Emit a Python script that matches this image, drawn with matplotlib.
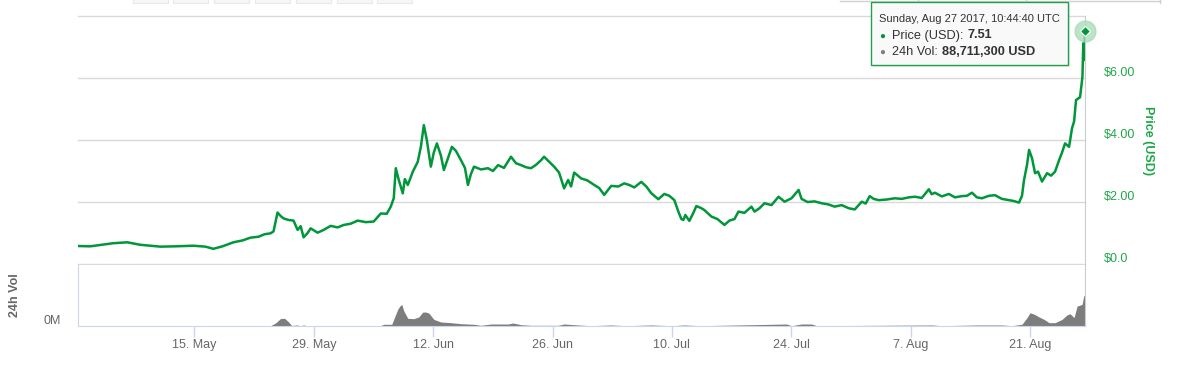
import pandas as pd
import matplotlib
matplotlib.use("Agg")
import matplotlib.pyplot as plt
from matplotlib.patches import Rectangle
from matplotlib.lines import Line2D
from matplotlib.text import Annotation
from matplotlib.transforms import ScaledTranslation

plt.rcParams['font.family'] = ['Liberation Sans', 'DejaVu Sans']

# price (days after 1 May 2017, USD)
price_day = [0.37, 1.78, 4.48, 6.13, 7.65, 10.0, 11.77, 13.88, 15.29, 16.23,
             17.29, 18.58, 19.64, 20.58, 21.52, 22.23, 22.93, 23.28, 23.75, 24.11,
             24.46, 25.05, 25.63, 26.10, 26.46, 26.81, 27.28, 27.63, 28.45, 29.16,
             29.98, 30.80, 31.51, 32.33, 33.15, 34.09, 35.03, 35.86, 36.56, 37.03,
             37.38, 37.62, 37.97, 38.44, 38.68, 39.03, 39.62, 40.20, 40.56, 40.91,
             41.26, 41.73, 42.08, 42.44, 42.91, 43.26, 43.73, 44.20, 44.67, 45.26,
             45.73, 46.08, 46.43, 46.79, 47.61, 48.43, 49.02, 49.61, 50.31, 51.13,
             51.72, 52.31, 52.90, 53.48, 54.07, 54.66, 55.01, 55.60, 56.19, 56.77,
             57.36, 57.83, 58.18, 58.54, 59.36, 60.06, 60.89, 61.48, 62.06, 62.89,
             63.71, 64.41, 65.00, 65.59, 66.41, 67.00, 67.59, 68.41, 69.11, 69.70,
             70.29, 70.76, 71.11, 71.35, 71.58, 72.05, 72.52, 72.87, 73.46, 73.81,
             74.64, 75.34, 76.16, 76.75, 77.34, 77.81, 78.51, 79.33, 79.69, 80.28,
             80.86, 81.68, 82.51, 83.21, 84.03, 84.86, 85.21, 85.91, 86.74, 87.56,
             88.38, 89.09, 89.91, 90.73, 91.44, 91.91, 92.26, 92.73, 93.20, 93.67,
             94.26, 95.20, 96.14, 96.96, 97.78, 98.49, 99.31, 100.13, 100.48, 100.84,
             101.66, 102.48, 103.19, 104.01, 104.60, 105.19, 105.77, 106.36, 107.18, 107.89,
             108.71, 109.54, 110.13, 110.71, 111.06, 111.30, 111.65, 111.89, 112.24, 112.59,
             112.94, 113.41, 114.00, 114.47, 114.94, 115.41, 115.76, 116.11, 116.58, 116.93,
             117.17, 117.40, 117.87, 118.15, 118.25, 118.33, 118.45]
price_usd = [0.58, 0.57, 0.67, 0.70, 0.62, 0.56, 0.57, 0.59, 0.56, 0.49,
             0.57, 0.70, 0.76, 0.85, 0.88, 0.96, 0.99, 1.05, 1.66, 1.55,
             1.47, 1.42, 1.40, 1.10, 1.22, 0.86, 1.00, 1.15, 1.01, 1.10,
             1.23, 1.18, 1.26, 1.30, 1.40, 1.35, 1.37, 1.63, 1.62, 1.85,
             2.12, 3.09, 2.71, 2.28, 2.74, 2.55, 2.98, 3.30, 3.78, 4.48,
             4.00, 3.14, 3.60, 3.89, 3.50, 3.03, 3.40, 3.78, 3.65, 3.35,
             3.10, 2.55, 2.90, 3.14, 3.05, 3.09, 3.00, 3.19, 3.10, 3.46,
             3.25, 3.19, 3.12, 3.09, 3.20, 3.35, 3.46, 3.30, 3.14, 2.95,
             2.44, 2.71, 2.50, 2.95, 2.76, 2.70, 2.55, 2.45, 2.23, 2.52,
             2.50, 2.60, 2.55, 2.47, 2.65, 2.50, 2.28, 2.09, 2.26, 2.20,
             2.06, 1.69, 1.45, 1.42, 1.58, 1.39, 1.65, 1.87, 1.80, 1.74,
             1.53, 1.45, 1.26, 1.40, 1.45, 1.69, 1.65, 1.85, 1.69, 1.80,
             1.96, 1.90, 2.17, 2.01, 2.12, 2.39, 2.10, 2.00, 2.02, 1.96,
             1.92, 1.85, 1.90, 1.80, 1.76, 1.90, 2.01, 1.95, 2.19, 2.10,
             2.06, 2.08, 2.12, 2.10, 2.15, 2.17, 2.13, 2.41, 2.25, 2.30,
             2.18, 2.26, 2.15, 2.19, 2.20, 2.30, 2.15, 2.12, 2.20, 2.22,
             2.10, 2.06, 2.03, 1.98, 2.20, 2.71, 3.20, 3.68, 3.41, 2.93,
             2.98, 2.66, 2.93, 2.85, 2.98, 3.35, 3.60, 3.89, 3.78, 4.38,
             4.60, 5.29, 5.38, 6.04, 7.12, 6.58, 7.51]

# 24h volume (days after 1 May 2017, million USD)
vol_day = [0.37, 8.83, 22.93, 23.52, 24.11, 24.58, 25.05, 25.40, 25.99, 26.46,
           26.81, 27.16, 35.86, 36.21, 37.15, 37.38, 37.85, 38.09, 38.32, 38.56,
           39.03, 39.73, 40.32, 40.79, 41.14, 41.50, 42.08, 42.91, 44.08, 45.26,
           46.79, 47.61, 48.78, 50.78, 51.37, 52.31, 53.48, 56.66, 57.36, 59.01,
           60.53, 62.88, 64.65, 67.58, 69.93, 71.46, 73.46, 83.45, 84.04, 85.21,
           86.39, 86.97, 100.49, 101.66, 105.77, 108.71, 109.89, 111.06, 111.65, 112.00,
           112.47, 113.06, 113.65, 114.24, 114.94, 115.76, 116.35, 116.70, 117.17, 117.52,
           118.11, 118.30, 118.45]
vol_musd = [0.9, 0.9, 0.9, 8.6, 21.5, 22.0, 11.5, 1.4, 2.9, 0.9,
            2.9, 0.9, 1.4, 4.9, 4.9, 19.2, 48.0, 57.0, 62.0, 43.0,
            22.0, 21.0, 26.0, 40.0, 40.0, 37.0, 19.0, 11.5, 9.5, 6.6,
            4.9, 2.0, 5.7, 5.7, 8.6, 3.7, 2.0, 2.0, 5.7, 2.9,
            0.9, 2.9, 0.9, 2.9, 0.9, 2.9, 0.9, 5.7, 0.9, 5.7,
            5.7, 0.9, 2.9, 0.9, 2.9, 2.9, 0.9, 4.9, 24.0, 38.0,
            34.0, 26.0, 19.0, 9.5, 9.5, 19.0, 32.0, 35.0, 24.0, 57.0,
            62.0, 86.0, 88.7]

tick_dates = ['2017-05-15', '2017-05-29', '2017-06-12', '2017-06-26',
              '2017-07-10', '2017-07-24', '2017-08-07', '2017-08-21']
tick_labels = ['15. May', '29. May', '12. Jun', '26. Jun',
               '10. Jul', '24. Jul', '7. Aug', '21. Aug']
price_ticks = [0, 2, 4, 6, 8]
price_tick_labels = ['$0.0', '$2.00', '$4.00', '$6.00', '']

t0 = pd.Timestamp('2017-05-01')
price_t = t0 + pd.to_timedelta(price_day, unit='D')
vol_t = t0 + pd.to_timedelta(vol_day, unit='D')
x_min = t0 + pd.Timedelta(days=0.35)
x_max = t0 + pd.Timedelta(days=118.45)

green = '#00963a'
green_txt = '#1fa64b'
grey_txt = '#666666'

W, H = 1185, 367
fig = plt.figure(figsize=(W / 100, H / 100), dpi=100)

# price panel
ax = fig.add_axes([78 / W, 1 - 264 / H, 1007 / W, 248 / H])
ax.plot(price_t, price_usd, color=green, lw=1.8, solid_joinstyle='round', zorder=3)
ax.plot(price_t[-1:], price_usd[-1:], 'o', ms=15, color='#a6dbb5', alpha=0.75,
        clip_on=False, zorder=4)
ax.plot(price_t[-1:], price_usd[-1:], 'D', ms=5, color=green, mec='white',
        mew=0.8, clip_on=False, zorder=5)
ax.set_xlim(x_min, x_max)
ax.set_ylim(0, 8)
ax.set_xticks([])
ax.set_yticks(price_ticks)
ax.set_yticklabels(price_tick_labels)
ax.yaxis.tick_right()
ax.tick_params(axis='y', length=0, pad=13.5, labelsize=9, labelcolor=green_txt)
ax.grid(axis='y', color='#d9d9d9', lw=1)
ax.set_axisbelow(True)
for gl in ax.get_ygridlines():
    gl.set_clip_on(False)
for s in ['left', 'bottom', 'top']:
    ax.spines[s].set_visible(False)
ax.spines['right'].set_color('#cccccc')
up = ScaledTranslation(0, 6.5 / 100, fig.dpi_scale_trans)
for lab in ax.get_yticklabels():
    lab.set_transform(lab.get_transform() + up)

# volume panel
axv = fig.add_axes([78 / W, 1 - 326 / H, 1007 / W, 61 / H])
axv.fill_between(vol_t, vol_musd, color='#7d7d7d', lw=0)
axv.set_xlim(x_min, x_max)
axv.set_ylim(0, 175)
axv.set_yticks([0])
axv.set_yticklabels(['0M'])
axv.tick_params(axis='y', length=0, pad=12, labelsize=9, labelcolor=grey_txt)
for lab in axv.get_yticklabels():
    lab.set_transform(lab.get_transform() + ScaledTranslation(0, 6 / 100, fig.dpi_scale_trans))
axv.set_xticks(pd.to_datetime(tick_dates))
axv.set_xticklabels(tick_labels)
axv.tick_params(axis='x', length=8, width=1, color='#ccd6eb', labelcolor=grey_txt,
                labelsize=9, pad=1.5)
axv.spines['top'].set_visible(False)
axv.spines['left'].set_color('#ccd6eb')
axv.spines['bottom'].set_color('#ccd6eb')
axv.spines['right'].set_color('#cccccc')

fig.text(15 / W, 1 - 295 / H, '24h Vol', rotation=90, fontsize=9, fontweight='bold',
         color=grey_txt, ha='center', va='center')
fig.text(1148 / W, 1 - 141 / H, 'Price (USD)', rotation=270, fontsize=9,
         fontweight='bold', color=green_txt, ha='center', va='center')

# range selector remnants at the top edge
for bx in [133, 173, 214, 255, 296, 337, 377]:
    fig.add_artist(Rectangle((bx / W, 1 - 3 / H), 35 / W, 8 / H, transform=fig.transFigure,
                             fc='#f6f6f6', ec='#e8e8e8', lw=0.8))
fig.add_artist(Line2D([840 / W, 1160 / W], [1 - 1 / H, 1 - 1 / H], transform=fig.transFigure,
                      color='#d0d0d0', lw=1))
for vx in [918, 1026, 1160]:
    fig.add_artist(Line2D([vx / W, vx / W], [1, 1 - 3 / H], transform=fig.transFigure,
                          color='#d0d0d0', lw=1))

# tooltip
fig.add_artist(Rectangle((873 / W, 1 - 67 / H), 197 / W, 63 / H, transform=fig.transFigure,
                         fc='#000000', alpha=0.08, lw=0, zorder=9))
fig.add_artist(Rectangle((871 / W, 1 - 65 / H), 197 / W, 63 / H, transform=fig.transFigure,
                         fc='#f9f9f9', ec='#23a04a', lw=1, zorder=10))
fig.text(879 / W, 1 - 18.5 / H, 'Sunday, Aug 27 2017, 10:44:40 UTC', fontsize=8,
         color='#333333', va='center', zorder=11)
rows = [(35.5, green, 'Price (USD):', '7.51'),
        (52.0, '#7f7f7f', '24h Vol:', '88,711,300 USD')]
for ry, dot_c, name, value in rows:
    fig.text(879 / W, 1 - ry / H, '\u25cf', fontsize=7, color=dot_c, va='center', zorder=11)
    t1 = fig.text(892 / W, 1 - ry / H, name, fontsize=9.2, color='#333333', va='center',
                  zorder=11)
    ann = Annotation(value, xy=(1, 0.5), xycoords=t1, xytext=(3, 0),
                     textcoords='offset points', fontsize=9.2, fontweight='bold',
                     color='#333333', va='center', ha='left', annotation_clip=False)
    ann.set_zorder(11)
    fig.add_artist(ann)

fig.savefig('out.png', dpi=100)
